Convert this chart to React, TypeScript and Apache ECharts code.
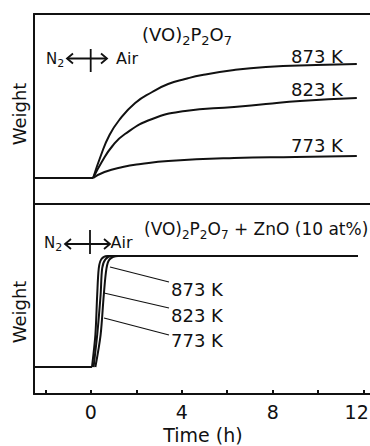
import React, { useEffect, useRef } from "react";
import * as echarts from "echarts";

// ---- Data (time in h, weight in arbitrary units) ----
const xTickValues = [-2, 0, 2, 4, 6, 8, 10, 12];
const xLabelValues = [0, 4, 8, 12];

const topBaseline: [number, number][] = [[-2.5, 0], [0.1, 0]];
const top873: [number, number][] = [
  [0.1, 0], [0.45, 0.23], [0.8, 0.42], [1.25, 0.58], [1.95, 0.75], [2.7, 0.86],
  [3.4, 0.94], [4.15, 0.99], [4.9, 1.03], [6.3, 1.08], [7.7, 1.11], [9.9, 1.13], [11.7, 1.14],
];
const top823: [number, number][] = [
  [0.1, 0], [0.48, 0.16], [0.95, 0.32], [1.5, 0.44], [2.7, 0.59], [4.15, 0.67],
  [6.3, 0.71], [7.7, 0.74], [9.2, 0.77], [11.7, 0.8],
];
const top773: [number, number][] = [
  [0.1, 0], [0.6, 0.06], [1.4, 0.11], [2.2, 0.14], [3.4, 0.17], [6.3, 0.2], [9, 0.21], [11.7, 0.22],
];

const botBaseline: [number, number][] = [[-2.5, 0], [0.05, 0]];
const bot873: [number, number][] = [
  [0.05, 0], [0.2, 0.29], [0.28, 0.65], [0.35, 0.89], [0.46, 0.97], [0.72, 1.0], [11.75, 1.0],
];
const bot823: [number, number][] = [
  [0.12, 0], [0.28, 0.29], [0.43, 0.65], [0.5, 0.89], [0.64, 0.97], [0.94, 1.0], [11.75, 1.0],
];
const bot773: [number, number][] = [
  [0.2, 0], [0.43, 0.29], [0.57, 0.65], [0.69, 0.89], [0.83, 0.97], [1.2, 1.0], [11.75, 1.0],
];

const tempLabels = ["873 K", "823 K", "773 K"];

const FONT = "DejaVu Sans";
const INK = "#111";

export default function App() {
  const ref = useRef<HTMLDivElement>(null);
  useEffect(() => {
    if (!ref.current) return;
    const chart = echarts.init(ref.current, null, { renderer: "svg" });

    const line = (data: [number, number][], xi: number, smooth: number | false = 0.5) => ({
      type: "line",
      xAxisIndex: xi,
      yAxisIndex: xi,
      data,
      showSymbol: false,
      smooth,
      lineStyle: { color: INK, width: 2 },
      silent: true,
    });

    const richSub = (main: number, sub: number, pad: number) => ({
      n: { fontSize: main, fontFamily: FONT, fill: INK, verticalAlign: "middle" },
      s: { fontSize: sub, fontFamily: FONT, fill: INK, verticalAlign: "middle", padding: [pad, 0, 0, 0] },
    });

    const arrow = (x1: number, x2: number, y: number, barX: number, barY1: number, barY2: number) => [
      { type: "line", shape: { x1, y1: y, x2, y2: y }, style: { stroke: INK, lineWidth: 1.8 } },
      { type: "polyline", shape: { points: [[x1 + 6, y - 5], [x1, y], [x1 + 6, y + 5]] }, style: { stroke: INK, lineWidth: 1.8, fill: null } },
      { type: "polyline", shape: { points: [[x2 - 6, y - 5], [x2, y], [x2 - 6, y + 5]] }, style: { stroke: INK, lineWidth: 1.8, fill: null } },
      { type: "line", shape: { x1: barX, y1: barY1, x2: barX, y2: barY2 }, style: { stroke: INK, lineWidth: 1.8 } },
    ];

    const text = (t: string, x: number, y: number, fs: number, align = "left", rotation = 0) => ({
      type: "text",
      x,
      y,
      rotation,
      style: { text: t, fontSize: fs, fontFamily: FONT, fill: INK, align, verticalAlign: "middle" },
    });

    const axisBase = {
      type: "value",
      min: -2.5,
      max: 12.28,
      splitLine: { show: false },
      axisLine: { show: true, onZero: false, lineStyle: { color: INK, width: 2 } },
    };

    chart.setOption({
      animation: false,
      grid: [
        { left: 34, top: 14, right: 0, height: 190, outerBoundsMode: "none", containLabel: false },
        { left: 34, top: 204, right: 0, height: 190, outerBoundsMode: "none", containLabel: false },
      ],
      xAxis: [
        { ...axisBase, gridIndex: 0, axisTick: { show: false }, axisLabel: { show: false } },
        {
          ...axisBase,
          gridIndex: 1,
          axisTick: { show: true, inside: true, length: 4, customValues: xTickValues, lineStyle: { color: INK, width: 2 } },
          axisLabel: {
            show: true,
            customValues: xLabelValues,
            fontSize: 19,
            fontFamily: FONT,
            color: INK,
            margin: 8,
            formatter: (v: number) => (v === 12 ? "{r|12}" : String(v)),
            rich: { r: { fontSize: 19, fontFamily: FONT, color: INK, padding: [0, 14, 0, 0] } },
          },
        },
        { ...axisBase, gridIndex: 0, position: "top", axisTick: { show: false }, axisLabel: { show: false } },
      ],
      yAxis: [
        {
          type: "value", gridIndex: 0, min: -0.26, max: 1.64,
          axisLine: { show: true, onZero: false, lineStyle: { color: INK, width: 2 } },
          axisTick: { show: false }, axisLabel: { show: false }, splitLine: { show: false },
        },
        {
          type: "value", gridIndex: 1, min: -0.243, max: 1.468,
          axisLine: { show: true, onZero: false, lineStyle: { color: INK, width: 2 } },
          axisTick: { show: false }, axisLabel: { show: false }, splitLine: { show: false },
        },
      ],
      series: [
        line(topBaseline, 0, false),
        line(top873, 0),
        line(top823, 0),
        line(top773, 0),
        line(botBaseline, 1, false),
        line(bot873, 1, 0.3),
        line(bot823, 1, 0.3),
        line(bot773, 1, 0.3),
      ],
      graphic: [
        text("Weight", 19.5, 114, 18, "center", Math.PI / 2),
        text("Weight", 19.5, 312, 18, "center", Math.PI / 2),
        text("Time (h)", 203, 435, 19, "center"),
        // top panel
        {
          type: "text", x: 142, y: 34,
          style: {
            text: "{n|(VO)}{s|2}{n|P}{s|2}{n|O}{s|7}",
            align: "left", verticalAlign: "middle",
            rich: richSub(18, 13, 12),
          },
        },
        {
          type: "text", x: 46, y: 58.5,
          style: { text: "{n|N}{s|2}", align: "left", verticalAlign: "middle", rich: richSub(15, 11, 9) },
        },
        ...arrow(67, 107, 58.5, 90.7, 49, 72),
        text("Air", 116, 58.5, 16),
        text(tempLabels[0], 291, 56, 18),
        text(tempLabels[1], 291, 89, 18),
        text(tempLabels[2], 291, 145, 18),
        // bottom panel
        {
          type: "text", x: 144, y: 229,
          style: {
            text: "{n|(VO)}{s|2}{n|P}{s|2}{n|O}{s|7}{n| + ZnO (10 at%)}",
            align: "left", verticalAlign: "middle",
            rich: richSub(17, 12, 11),
          },
        },
        {
          type: "text", x: 44, y: 242.5,
          style: { text: "{n|N}{s|2}", align: "left", verticalAlign: "middle", rich: richSub(15, 11, 9) },
        },
        ...arrow(65, 110, 244, 90, 230, 254),
        text("Air", 110.5, 242.5, 16),
        { type: "line", shape: { x1: 110, y1: 267, x2: 169, y2: 282 }, style: { stroke: INK, lineWidth: 1.2 } },
        { type: "line", shape: { x1: 104, y1: 293, x2: 169, y2: 308 }, style: { stroke: INK, lineWidth: 1.2 } },
        { type: "line", shape: { x1: 104, y1: 318, x2: 169, y2: 335 }, style: { stroke: INK, lineWidth: 1.2 } },
        text(tempLabels[0], 171, 289, 18),
        text(tempLabels[1], 171, 315, 18),
        text(tempLabels[2], 171, 340, 18),
      ],
    });
    return () => chart.dispose();
  }, []);
  return (
    <div
      ref={ref}
      style={{ position: "fixed", left: 0, top: 0, width: 370, height: 446, background: "#fff" }}
    />
  );
}
